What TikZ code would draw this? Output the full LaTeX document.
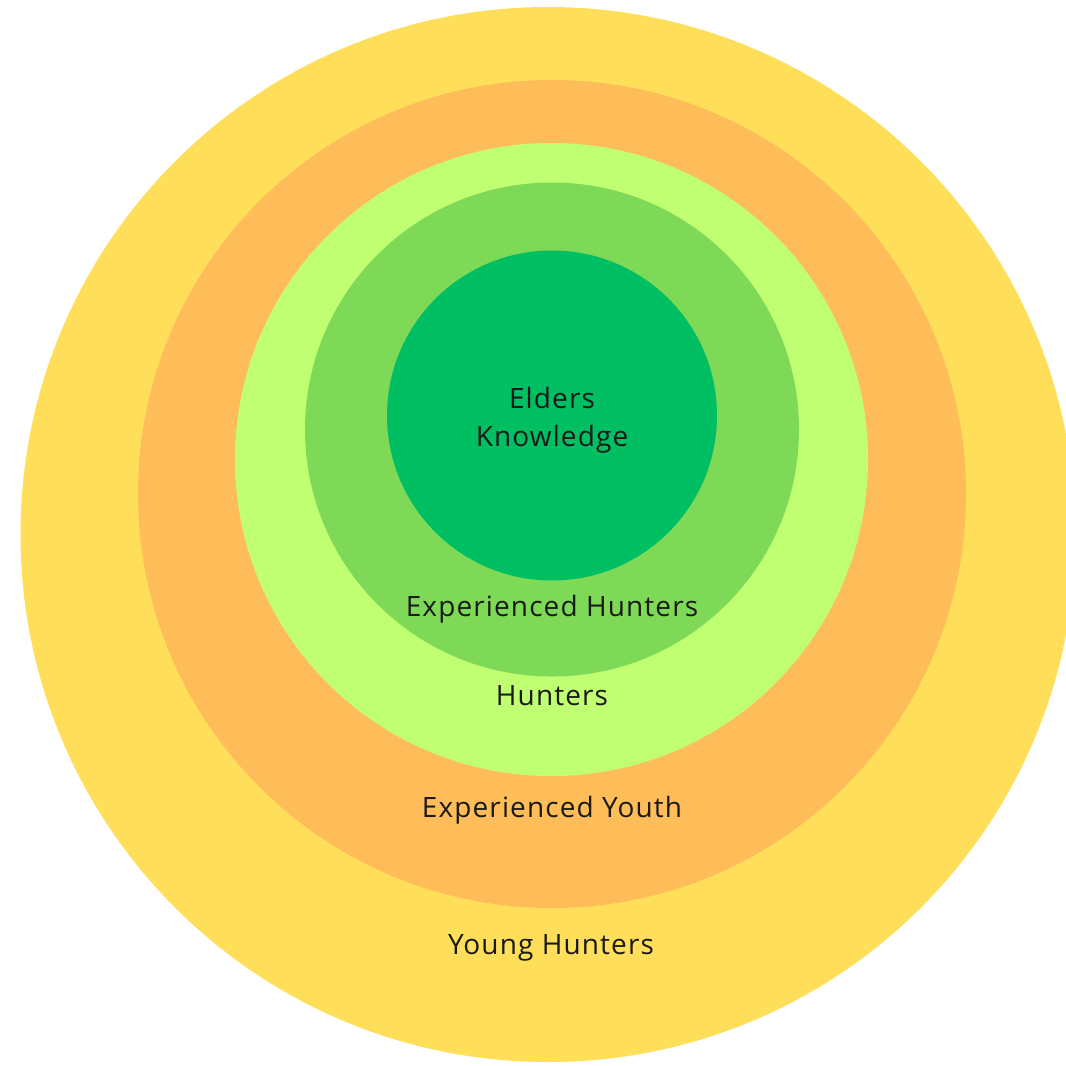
\documentclass[tikz,border=0pt]{standalone}
\usepackage{fontspec}
\setmainfont{Open Sans}[LetterSpace=4]
\definecolor{cyellow}{HTML}{FFDE59}
\definecolor{corange}{HTML}{FFBD59}
\definecolor{clight}{HTML}{C1FF72}
\definecolor{cmid}{HTML}{7ED957}
\definecolor{cdark}{HTML}{00BF63}
\definecolor{ctext}{HTML}{1A1A1A}
\tikzset{
  ring/.style={circle, draw=none, inner sep=0pt},
  lbl/.style={text=ctext, font=\fontsize{21}{28.5}\selectfont, align=center, inner sep=0pt}
}
\begin{document}
\begin{tikzpicture}[x=0.75pt,y=-0.75pt]
\useasboundingbox (0,0) rectangle (1066,1065);
\clip (0,0) rectangle (1066,1065);
\node[ring, fill=cyellow, minimum size=791.25pt] (young) at (548,534.5) {};
\node[ring, fill=corange, minimum size=621pt] (youth) at (552,494) {};
\node[ring, fill=clight, minimum size=474.75pt] (hunt) at (551.5,459.5) {};
\node[ring, fill=cmid, minimum size=370.5pt] (exphunt) at (552,429.5) {};
\node[ring, fill=cdark, minimum size=247.5pt] (elders) at (552,415.5) {};
\node[lbl] (teld) at (552,420) {Elders\\Knowledge};
\node[lbl] (texph) at (552,609) {Experienced Hunters};
\node[lbl] (thunt) at (552,696) {Hunters};
\node[lbl] (texpy) at (552,810) {Experienced Youth};
\node[lbl] (tyoung) at (551,948) {Young Hunters};
\end{tikzpicture}
\end{document}
